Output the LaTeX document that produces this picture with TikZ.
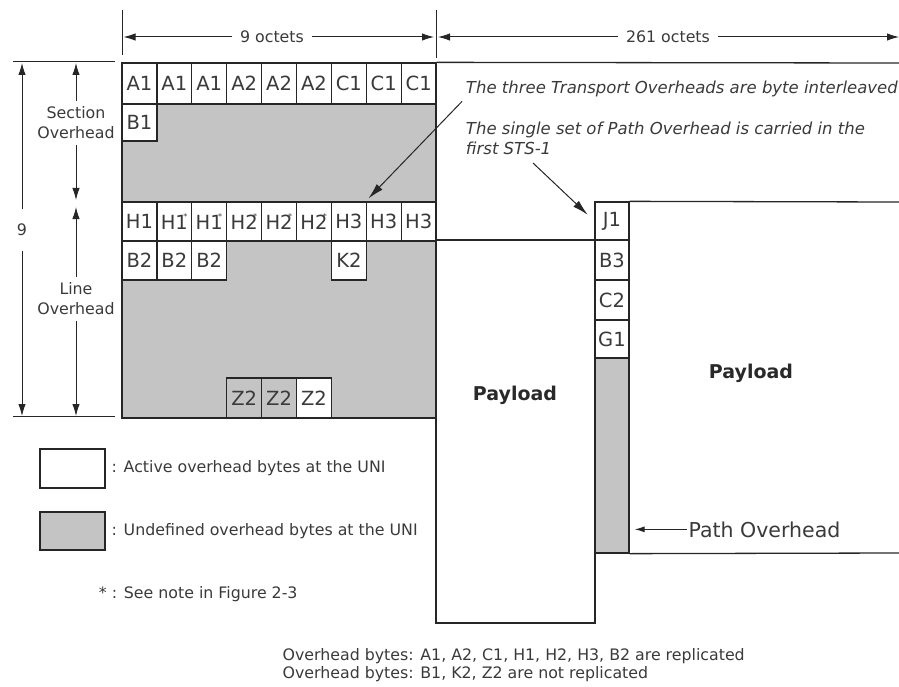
\documentclass[tikz,border=0pt]{standalone}
\usepackage{fontspec}
\setmainfont{DejaVu Sans}[ItalicFont={DejaVu Sans Oblique},BoldFont={DejaVu Sans Bold}]
\usetikzlibrary{arrows.meta,positioning}
\definecolor{OHGray}{HTML}{C4C4C4}
\definecolor{OHLine}{HTML}{262626}
\definecolor{OHText}{HTML}{3A3A3A}
\newcommand{\ostar}[1]{#1\llap{\raisebox{0.52em}{\fontsize{8}{8}\selectfont *}\kern0.03em}}

\begin{document}
\begin{tikzpicture}[x=1pt,y=-1pt,>={Latex[length=12pt,width=7.5pt]},line width=1.3pt]
    \tikzstyle{ohcell}=[draw=OHLine,fill=white,inner sep=0pt,minimum width=34.9pt,
      text=OHText,font=\fontsize{19.5}{19.5}\selectfont]
    \tikzstyle{pohcell}=[ohcell,minimum width=34pt]
    \tikzstyle{dimline}=[draw=OHLine,line width=1pt]
    \tikzstyle{dimlabel}=[text=OHText,font=\fontsize{15.8}{20}\selectfont,align=center,
      inner xsep=7pt]
    \tikzstyle{italnote}=[text=OHText,font=\fontsize{16.5}{20}\selectfont\itshape,align=left]
    \tikzstyle{notearrow}=[draw=OHLine,line width=1pt,-{Latex[length=16pt,width=8pt]}]
    \tikzstyle{legbox}=[draw=OHLine,line width=1.5pt,minimum width=65pt,inner sep=0pt]
    \tikzstyle{txt}=[text=OHText,font=\fontsize{15.8}{18}\selectfont]
    \tikzstyle{payload}=[text=OHText!70!black,font=\fontsize{19}{19}\selectfont\bfseries]
    \useasboundingbox (0,0) rectangle (899,687);

    % frame dimensions
    \draw[dimline] (122,10) -- (122,55);
    \draw[dimline] (436,10) -- (436,58);
    \draw[dimline] (13,62) -- (115,62);
    \draw[dimline] (13,416) -- (115,416);
    \coordinate (dL) at (122,37);
    \coordinate (dM) at (436,37);
    \coordinate (dR) at (899,37);
    \node[dimlabel] (w9) at (272,37) {9 octets};
    \node[dimlabel] (w261) at (668,37) {261 octets};
    \draw[dimline,->,shorten >=1.5pt] (w9) -- (dL);
    \draw[dimline,->,shorten >=2pt] (w9) -- (dM);
    \draw[dimline,->,shorten >=2pt] (w261) -- (dM);
    \draw[dimline,->] (w261) -- (dR);

    \coordinate (vT) at (22,63);
    \coordinate (vB) at (22,416);
    \coordinate (sT) at (76,63);
    \coordinate (sB) at (76,200);
    \coordinate (lT) at (76,207);
    \coordinate (lB) at (76,416);
    \node[dimlabel,inner ysep=14pt] (h9) at (22,230) {9};
    \node[dimlabel,inner ysep=5pt,inner xsep=0pt] (secoh) at (76,123) {Section\\Overhead};
    \node[dimlabel,inner ysep=5pt,inner xsep=0pt] (linoh) at (76,299) {Line\\Overhead};
    \draw[dimline,->] (h9) -- (vT);
    \draw[dimline,->] (h9) -- (vB);
    \draw[dimline,->] (secoh) -- (sT);
    \draw[dimline,->] (secoh) -- (sB);
    \draw[dimline,->] (linoh) -- (lT);
    \draw[dimline,->] (linoh) -- (lB);

    % payload and transport overhead
    \node[draw=OHLine,fill=white,minimum width=159pt,minimum height=383pt,inner sep=0pt]
      (lpay) at (515.5,431.5) {};
    \node[draw=OHLine,fill=OHGray,minimum width=314pt,minimum height=355pt,inner sep=0pt]
      (toh) at (279,240.5) {};
    \coordinate (topend) at (899,63);
    \draw[draw=OHLine] (toh.north east) -- (topend);

    \foreach \lbl [count=\i] in {A1,A1,A1,A2,A2,A2,C1,C1,C1}
      \node[ohcell,minimum height=41pt] (a\i) at ({122+(\i-0.5)*34.9},83.5) {\lbl};
    \node[ohcell,minimum height=37pt] (b1) at ({122+0.5*34.9},122.5) {B1};
    \foreach \lbl [count=\i] in {H1,\ostar{H1},\ostar{H1},\ostar{H2},\ostar{H2},\ostar{H2},H3,H3,H3}
      \node[ohcell,minimum height=39pt] (h\i) at ({122+(\i-0.5)*34.9},221.5) {\lbl};
    \foreach \i in {1,2,3}
      \node[ohcell,minimum height=39pt] (bb\i) at ({122+(\i-0.5)*34.9},260.5) {B2};
    \node[ohcell,minimum height=39pt] (k2) at ({122+6.5*34.9},260.5) {K2};
    \node[ohcell,fill=OHGray,minimum height=40pt] (z4) at ({122+3.5*34.9},398) {Z2};
    \node[ohcell,fill=OHGray,minimum height=40pt] (z5) at ({122+4.5*34.9},398) {Z2};
    \node[ohcell,minimum height=40pt] (z6) at ({122+5.5*34.9},398) {Z2};

    % path overhead column
    \node[draw=OHLine,fill=OHGray,minimum width=34pt,minimum height=351pt,inner sep=0pt]
      (pohcol) at (612,377.5) {};
    \node[pohcell,minimum height=38pt] (j1) at (612,221) {J1};
    \node[pohcell,minimum height=40pt] (b3) at (612,260) {B3};
    \node[pohcell,minimum height=40pt] (c2) at (612,300) {C2};
    \node[pohcell,minimum height=38pt] (g1) at (612,339) {G1};
    \coordinate (rtop) at (899,202);
    \coordinate (rbot) at (899,553);
    \draw[draw=OHLine] (pohcol.north east) -- (rtop);
    \draw[draw=OHLine] (pohcol.south east) -- (rbot);

    \node[payload,anchor=base] (lpaytxt) at (515,400) {Payload};
    \node[payload,anchor=base] (rpaytxt) at (751,378) {Payload};

    \node[font=\fontsize{20.5}{20.5}\selectfont,text=OHText,anchor=base west,inner sep=1pt]
      (pohlbl) at (687,537) {Path Overhead};
    \draw[dimline,-{Latex[length=10pt,width=6pt]},shorten >=5pt]
      (pohlbl.west) -- (pohlbl.west -| pohcol.east);

    % notes
    \node[italnote,anchor=base west] (n1) at (462,94)
      {The three Transport Overheads are byte interleaved};
    \node[italnote,anchor=base west] (n2) at (462,155)
      {The single set of Path Overhead is carried in the\\first STS-1};
    \coordinate (n2tail) at (533,163);
    \draw[notearrow,shorten >=4pt] (n1.south west) -- (h8.north west);
    \draw[notearrow,shorten >=9pt] (n2tail) -- (j1.west);

    % legend
    \node[legbox,fill=white,minimum height=39pt] (lact) at (72.5,468.5) {};
    \node[legbox,fill=OHGray,minimum height=38pt] (lund) at (72.5,531) {};
    \node[txt,right=2pt of lact] (tact) {: Active overhead bytes at the UNI};
    \node[txt,right=2pt of lund] (tund) {: Undefined overhead bytes at the UNI};
    \node[txt,anchor=base west] (tnote) at (95,598) {* : See note in Figure 2-3};
    \node[txt,anchor=base west,align=left,inner sep=0pt] (repl) at (282,678)
      {Overhead bytes: A1, A2, C1, H1, H2, H3, B2 are replicated\\
       Overhead bytes: B1, K2, Z2 are not replicated};
\end{tikzpicture}
\end{document}
